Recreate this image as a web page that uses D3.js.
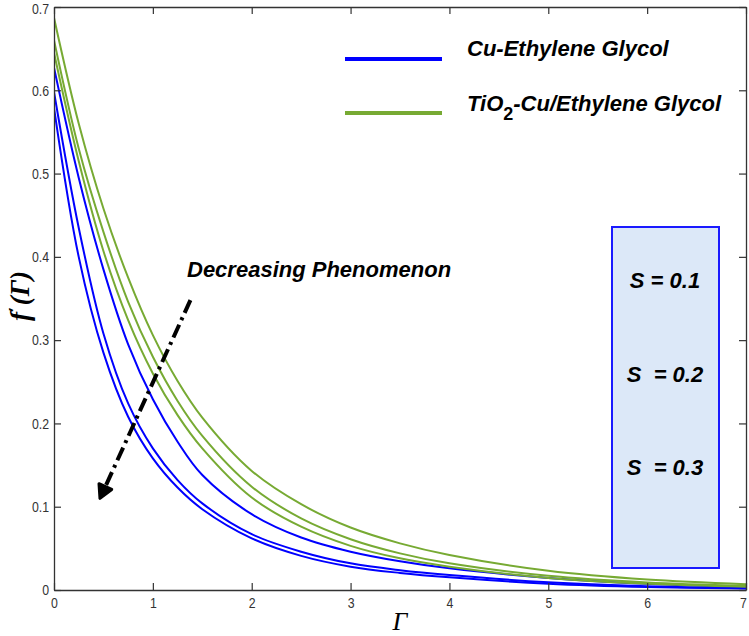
<!DOCTYPE html>
<html><head><meta charset="utf-8">
<script src="https://cdn.jsdelivr.net/npm/d3@7"></script>
<style>body{margin:0;background:#fff}svg{display:block}</style>
</head><body>
<svg id="c" width="749" height="636"></svg>
<script>
const xGrid = [0, 0.25, 0.5, 0.75, 1, 1.25, 1.5, 2, 2.5, 3, 3.5, 4, 5, 6, 7];
const blue1 = [0.627, 0.495, 0.385, 0.295, 0.229, 0.178, 0.138, 0.091, 0.063, 0.046, 0.0345, 0.026, 0.0145, 0.0075, 0.0035];
const blue2 = [0.598, 0.435, 0.308, 0.224, 0.17, 0.132, 0.104, 0.067, 0.046, 0.032, 0.0238, 0.018, 0.0093, 0.0045, 0.0021];
const blue3 = [0.579, 0.40, 0.285, 0.208, 0.158, 0.123, 0.097, 0.062, 0.041, 0.028, 0.0205, 0.0152, 0.0076, 0.0036, 0.0017];
const green1 = [0.687, 0.56, 0.458, 0.375, 0.306, 0.251, 0.207, 0.143, 0.103, 0.075, 0.056, 0.042, 0.023, 0.0125, 0.007];
const green2 = [0.66, 0.53, 0.43, 0.346, 0.28, 0.227, 0.185, 0.124, 0.086, 0.061, 0.044, 0.032, 0.017, 0.009, 0.005];
const green3 = [0.645, 0.515, 0.407, 0.324, 0.26, 0.21, 0.17, 0.111, 0.076, 0.053, 0.038, 0.028, 0.0145, 0.0075, 0.004];
const xTicks = [0, 1, 2, 3, 4, 5, 6, 7];
const yTicks = [0, 0.1, 0.2, 0.3, 0.4, 0.5, 0.6, 0.7];
const legendLabels = ["Cu-Ethylene Glycol", "TiO2-Cu/Ethylene Glycol"];
const sLabels = ["S = 0.1", "S  = 0.2", "S  = 0.3"];
const annotation = "Decreasing Phenomenon";
const arrowFrom = [1.38, 0.348];
const arrowTo = [0.465, 0.11];

const BLUE = "#0000ff", GREEN = "#77aa33", AX = "#333";
const SANS = "Liberation Sans, Arial, sans-serif";
const svg = d3.select("#c");
const L = 54, R = 746, T = 7, B = 590;
const x = d3.scaleLinear().domain([0, 7]).range([L, R]);
const y = d3.scaleLinear().domain([0, 0.7]).range([B, T]);

svg.append("defs").append("clipPath").attr("id", "clip")
  .append("rect").attr("x", L).attr("y", T).attr("width", R - L).attr("height", B - T);

const line = d3.line().x(d => x(d[0])).y(d => y(d[1])).curve(d3.curveCatmullRom.alpha(0.5));
const series = [[blue1, BLUE], [blue2, BLUE], [blue3, BLUE], [green1, GREEN], [green2, GREEN], [green3, GREEN]];
const g = svg.append("g").attr("clip-path", "url(#clip)");
series.forEach(([vals, col]) => {
  g.append("path").datum(xGrid.map((v, i) => [v, vals[i]]))
    .attr("d", line).attr("fill", "none").attr("stroke", col).attr("stroke-width", 2);
});

// box with S labels
const box = svg.append("g");
box.append("rect").attr("x", 612).attr("y", 227).attr("width", 107).attr("height", 341)
  .attr("fill", "#dce8f8").attr("stroke", "#1a1aff").attr("stroke-width", 2);
sLabels.forEach((t, i) => {
  box.append("text").attr("x", 665).attr("y", 288 + i * 93.5).attr("text-anchor", "middle")
    .attr("font-family", SANS).attr("font-size", 22)
    .attr("font-weight", "bold").attr("font-style", "italic").style("white-space", "pre").text(t);
});

// axes (MATLAB style box with inward ticks)
const axB = svg.append("g").attr("transform", `translate(0,${B})`)
  .call(d3.axisBottom(x).tickValues(xTicks).tickFormat(d3.format("d")).tickSizeInner(-7).tickSizeOuter(0).tickPadding(7));
const axT = svg.append("g").attr("transform", `translate(0,${T})`)
  .call(d3.axisTop(x).tickValues(xTicks).tickFormat("").tickSizeInner(-7).tickSizeOuter(0));
const axL = svg.append("g").attr("transform", `translate(${L},0)`)
  .call(d3.axisLeft(y).tickValues(yTicks).tickFormat(d => d === 0 ? "0" : d3.format(".1f")(d)).tickSizeInner(-7).tickSizeOuter(0).tickPadding(5));
const axR = svg.append("g").attr("transform", `translate(${R},0)`)
  .call(d3.axisRight(y).tickValues(yTicks).tickFormat("").tickSizeInner(-7).tickSizeOuter(0));
[axB, axT, axL, axR].forEach(a => {
  a.select(".domain").attr("stroke", AX).attr("stroke-width", 1.3);
  a.selectAll(".tick line").attr("stroke", AX).attr("stroke-width", 1.2);
  a.selectAll("text").attr("font-family", SANS).attr("font-size", 15).attr("fill", "#333");
});
[axB, axL].forEach(a => a.selectAll(".tick text").each(function () {
  const w = this.getComputedTextLength();
  d3.select(this).attr("textLength", w * 0.82).attr("lengthAdjust", "spacingAndGlyphs");
}));
axB.selectAll(".tick text").filter(d => d === 7).attr("dx", -3);
axL.selectAll(".tick text").filter(d => d === 0.7).attr("dy", "0.42em");

// legend
const lg = svg.append("g");
[[BLUE, 59], [GREEN, 113]].forEach(([col, ly]) => {
  lg.append("line").attr("x1", 345).attr("x2", 442).attr("y1", ly).attr("y2", ly)
    .attr("stroke", col).attr("stroke-width", 4);
});
lg.append("text").attr("x", 467).attr("y", 56)
  .attr("font-family", SANS).attr("font-size", 22)
  .attr("font-weight", "bold").attr("font-style", "italic").text(legendLabels[0]);
const lt2 = lg.append("text").attr("x", 467).attr("y", 111)
  .attr("font-family", SANS).attr("font-size", 22)
  .attr("font-weight", "bold").attr("font-style", "italic");
lt2.append("tspan").text("TiO");
lt2.append("tspan").attr("dy", 9).attr("font-size", 18).attr("font-style", "normal").text("2");
lt2.append("tspan").attr("dy", -9).text("-Cu/Ethylene Glycol");

// annotation
svg.append("text").attr("x", 187).attr("y", 277)
  .attr("font-family", SANS).attr("font-size", 22)
  .attr("font-weight", "bold").attr("font-style", "italic").text(annotation);
const ax0 = x(arrowFrom[0]), ay0 = y(arrowFrom[1]), ax1 = x(arrowTo[0]), ay1 = y(arrowTo[1]);
const dx = ax1 - ax0, dy = ay1 - ay0, len = Math.hypot(dx, dy), ux = dx / len, uy = dy / len;
const hl = 13, hw = 7;
svg.append("line").attr("x1", ax0).attr("y1", ay0).attr("x2", ax1 - ux * hl * 0.8).attr("y2", ay1 - uy * hl * 0.8)
  .attr("stroke", "#000").attr("stroke-width", 4).attr("stroke-dasharray", "14,5,3,5");
const bx = ax1 - ux * hl, by = ay1 - uy * hl;
svg.append("path").attr("d", `M${ax1},${ay1}L${bx - uy * hw},${by + ux * hw}L${bx + uy * hw},${by - ux * hw}Z`)
  .attr("fill", "#000").attr("stroke", "#000").attr("stroke-width", 3).attr("stroke-linejoin", "round");

// axis labels
svg.append("text").attr("x", 400).attr("y", 630).attr("text-anchor", "middle")
  .attr("font-family", "Liberation Serif, Times New Roman, serif").attr("font-size", 26)
  .attr("font-style", "italic").text("Γ");
const yl = svg.append("text").attr("transform", "translate(29,296) rotate(-90)").attr("text-anchor", "middle")
  .attr("font-family", "Liberation Serif, Times New Roman, serif").attr("font-size", 27)
  .attr("font-weight", "bold").attr("font-style", "italic");
yl.append("tspan").text("f");
yl.append("tspan").attr("font-size", 17).attr("dy", -9).text("′");
yl.append("tspan").attr("dy", 9).attr("dx", 2).text("(Γ)");
</script>
</body></html>
